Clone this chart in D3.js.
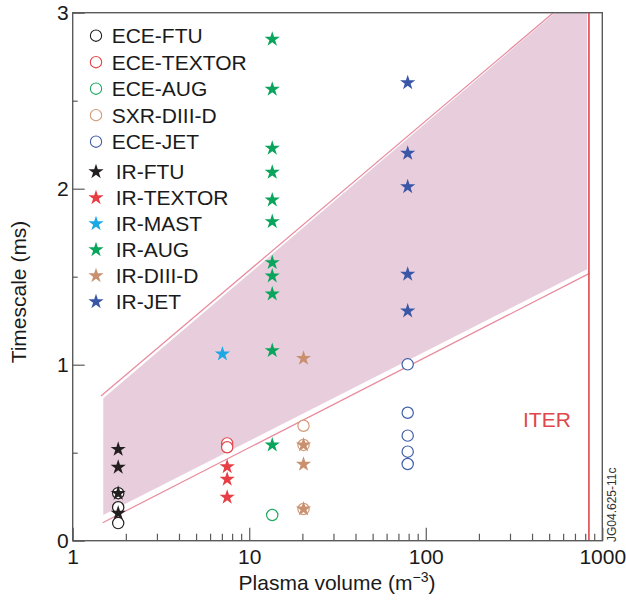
<!DOCTYPE html>
<html>
<head>
<meta charset="utf-8">
<script src="https://cdn.jsdelivr.net/npm/d3@7"></script>
<style>
  html, body { margin: 0; padding: 0; background: #fff; }
  svg { display: block; font-family: "Liberation Sans", Arial, Helvetica, sans-serif; }
</style>
</head>
<body>
<svg id="chart" width="626" height="601"></svg>
<script>
// Plasma volume (m^3) of each device and measured timescales (ms)
const seriesNames = ["ECE-FTU", "ECE-TEXTOR", "ECE-AUG", "SXR-DIII-D", "ECE-JET",
                     "IR-FTU", "IR-TEXTOR", "IR-MAST", "IR-AUG", "IR-DIII-D", "IR-JET"];
const seriesKinds = ["circle", "circle", "circle", "circle", "circle",
                     "star", "star", "star", "star", "star", "star"];
const seriesColors = ["#231f20", "#e2464a", "#1fa960", "#d49a78", "#3f5ea8",
                      "#231f20", "#e63e44", "#1ba8e4", "#0aa55c", "#c99070", "#3a56a6"];
const seriesVolume = [1.81, 7.5, 13.5, 20.3, 79,
                      1.81, 7.5, 7.05, 13.5, 20.3, 79];
const seriesValues = [
  [0.27, 0.19, 0.10],
  [0.553, 0.531],
  [0.146],
  [0.653, 0.544, 0.18],
  [1.002, 0.727, 0.597, 0.506, 0.436],
  [0.519, 0.417, 0.269, 0.156],
  [0.42, 0.349, 0.247],
  [1.061],
  [2.849, 2.565, 2.23, 2.093, 1.936, 1.813, 1.58, 1.504, 1.402, 1.08, 0.544],
  [1.036, 0.544, 0.434, 0.18],
  [2.602, 2.201, 2.011, 1.514, 1.305]
];

// Scaling band: shaded region and its two bounding lines (volume, ms)
const bandFill = [[1.49, 0.809], [540, 3.0], [820, 3.0], [820, 1.542], [1.49, 0.146]];
const bandUpperLine = [[1.446, 0.822], [528, 3.0]];
const bandLowerLine = [[1.479, 0.102], [845, 1.519]];
const iterVolume = 840;

const xMajorTicks = [1, 10, 100, 1000];
const xMinorTicks = [2, 3, 4, 5, 6, 7, 8, 9, 20, 30, 40, 50, 60, 70, 80, 90, 200, 300, 400, 500, 600, 700, 800, 900];
const yMajorTicks = [0, 1, 2, 3];
const yMinorTicks = [0.5, 1.5, 2.5];

const svg = d3.select("#chart");
const plotL = 72.7, plotR = 602.3, plotT = 12.7, plotB = 540.7;

const x = d3.scaleLog().domain([1, 1000]).range([plotL, plotR]);
const y = d3.scaleLinear().domain([0, 3]).range([plotB, plotT]);

const line = d3.line().x(d => x(d[0])).y(d => y(d[1]));

// shaded band
svg.append("path")
  .attr("d", line(bandFill) + "Z")
  .attr("fill", "#e8cedd");

svg.append("path").attr("d", line(bandUpperLine))
  .attr("fill", "none").attr("stroke", "#e98a9e").attr("stroke-width", 1.2);
svg.append("path").attr("d", line(bandLowerLine))
  .attr("fill", "none").attr("stroke", "#e98a9e").attr("stroke-width", 1.2);

// ITER volume marker
svg.append("line")
  .attr("x1", x(iterVolume)).attr("x2", x(iterVolume))
  .attr("y1", y(0)).attr("y2", y(3))
  .attr("stroke", "#e0474c").attr("stroke-width", 1.6);
svg.append("text")
  .attr("x", 523).attr("y", 427)
  .attr("fill", "#e0474c").attr("font-size", 21)
  .text("ITER");

// axes: ticks point inward
const axisColor = "#5a5a5a";
const xAxisMinor = d3.axisBottom(x).tickValues(xMinorTicks).tickSize(-7).tickFormat("");
const xAxisMajor = d3.axisBottom(x).tickValues(xMajorTicks).tickSize(-13).tickPadding(8)
  .tickFormat(d3.format("d"));
const yAxisMinor = d3.axisLeft(y).tickValues(yMinorTicks).tickSize(-5).tickFormat("");
const yAxisMajor = d3.axisLeft(y).tickValues(yMajorTicks).tickSize(-12).tickPadding(4)
  .tickFormat(d3.format("d"));

function styleAxis(g) {
  g.select(".domain").remove();
  g.selectAll(".tick line").attr("stroke", axisColor).attr("stroke-width", 1.2);
  g.selectAll(".tick text").attr("fill", "#1a1a1a").attr("font-size", 21)
    .attr("font-family", "Liberation Sans, Arial, sans-serif");
}

svg.append("g").attr("transform", `translate(0,${plotB})`).call(xAxisMinor).call(styleAxis);
svg.append("g").attr("transform", `translate(0,${plotB})`).call(xAxisMajor).call(styleAxis);
svg.append("g").attr("transform", `translate(${plotL},0)`).call(yAxisMinor).call(styleAxis);
svg.append("g").attr("transform", `translate(${plotL},0)`).call(yAxisMajor).call(styleAxis);

// frame
svg.append("rect")
  .attr("x", plotL).attr("y", plotT)
  .attr("width", plotR - plotL).attr("height", plotB - plotT)
  .attr("fill", "none").attr("stroke", axisColor).attr("stroke-width", 1.4);

// axis titles
svg.append("text")
  .attr("x", 337).attr("y", 590)
  .attr("text-anchor", "middle").attr("font-size", 21).attr("fill", "#1a1a1a")
  .call(t => {
    t.append("tspan").text("Plasma volume (m");
    t.append("tspan").attr("font-size", 14).attr("dy", -8).text("\u22123");
    t.append("tspan").attr("dy", 8).text(")");
  });

svg.append("text")
  .attr("transform", "translate(26,292) rotate(-90)")
  .attr("text-anchor", "middle").attr("font-size", 21).attr("fill", "#1a1a1a")
  .text("Timescale (ms)");

svg.append("text")
  .attr("transform", "translate(616,542) rotate(-90)")
  .attr("font-size", 12).attr("fill", "#333")
  .text("JG04.625-11c");

// markers
const circleSym = d3.symbol().type(d3.symbolCircle).size(100);
const starSym = d3.symbol().type(d3.symbolStar).size(72);

const points = [];
seriesNames.forEach((name, i) => {
  seriesValues[i].forEach(v => points.push({
    kind: seriesKinds[i], color: seriesColors[i], vol: seriesVolume[i], val: v
  }));
});

const circlePoints = points.filter(p => p.kind === "circle");
const starPoints = points.filter(p => p.kind === "star");

svg.append("g").selectAll("path").data(circlePoints).join("path")
  .attr("d", circleSym)
  .attr("transform", d => `translate(${x(d.vol)},${y(d.val)})`)
  .attr("fill", "#fff").attr("stroke", d => d.color).attr("stroke-width", 1.2);

svg.append("g").selectAll("path").data(starPoints).join("path")
  .attr("d", starSym)
  .attr("transform", d => `translate(${x(d.vol)},${y(d.val)})`)
  .attr("fill", d => d.color);

// legend
const legend = svg.append("g");
seriesNames.forEach((name, i) => {
  const isCircle = seriesKinds[i] === "circle";
  const k = isCircle ? i : i - 5;
  const cy = isCircle ? 35.7 + k * 26.5 : 171.7 + k * 26;
  legend.append("path")
    .attr("d", isCircle ? circleSym() : starSym())
    .attr("transform", `translate(96,${cy})`)
    .attr("fill", isCircle ? "#fff" : seriesColors[i])
    .attr("stroke", isCircle ? seriesColors[i] : "none")
    .attr("stroke-width", 1.1);
  legend.append("text")
    .attr("x", isCircle ? 111.7 : 115.7).attr("y", cy + 7.5)
    .attr("font-size", 21).attr("fill", "#1a1a1a")
    .text(name);
});
</script>
</body>
</html>
